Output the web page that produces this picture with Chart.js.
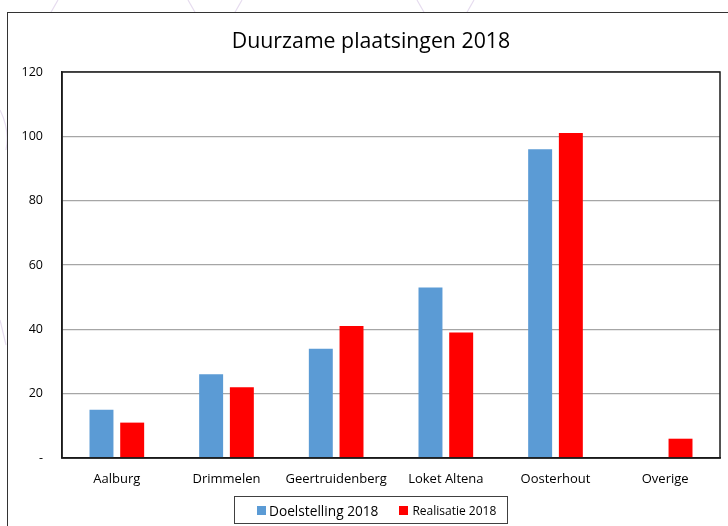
<!DOCTYPE html>
<html>
<head>
<meta charset="utf-8">
<script src="https://cdn.jsdelivr.net/npm/chart.js@4/dist/chart.umd.min.js"></script>
<style>
  html, body { margin: 0; padding: 0; background: #fff; }
  #wrap { position: relative; width: 728px; height: 526px; overflow: hidden; font-family: "Open Sans", sans-serif; }
  #deco { position: absolute; left: 0; top: 0; }
  #frame { position: absolute; left: 7px; top: 12px; width: 740px; height: 540px; border: 1.5px solid #333; background: #fff; box-sizing: border-box; }
  #cv { position: absolute; left: 0; top: 0; }
  #title { position: absolute; left: 0; top: 27px; width: 742px; text-align: center; font-size: 21.3px; line-height: 25px; color: #000; white-space: nowrap; }
  #legend { position: absolute; left: 234px; top: 496px; width: 274px; height: 28px; border: 1px solid #404040; box-sizing: border-box; display: flex; align-items: center; color: #000; }
  .item { display: flex; align-items: center; }
  .sw { width: 9px; height: 9px; display: inline-block; }
</style>
</head>
<body>
<div id="wrap">
  <svg id="deco" width="728" height="526">
    <g stroke="#e6dcef" stroke-width="1.2" fill="none">
      <line x1="50" y1="14" x2="58" y2="0"/>
      <line x1="188" y1="0" x2="196" y2="14"/>
      <line x1="234" y1="14" x2="242" y2="0"/>
      <line x1="417" y1="0" x2="425" y2="14"/>
      <line x1="466" y1="14" x2="474" y2="0"/>
      <path d="M0 110 Q10 130 6 150"/>
      <path d="M0 320 L6 345"/>
    </g>
  </svg>
  <div id="frame"></div>
  <canvas id="cv" width="728" height="526"></canvas>
  <div id="title"></div>
  <div id="legend"></div>
</div>
<script>
const chartTitle = "Duurzame plaatsingen 2018";
const categories = ["Aalburg", "Drimmelen", "Geertruidenberg", "Loket Altena", "Oosterhout", "Overige"];
const doelstelling2018 = [15, 26, 34, 53, 96, null];
const realisatie2018 = [11, 22, 41, 39, 101, 6];
const yTicks = [0, 20, 40, 60, 80, 100, 120];
const seriesNames = ["Doelstelling 2018", "Realisatie 2018"];
const seriesColors = ["#5b9bd5", "#ff0000"];

document.getElementById('title').textContent = chartTitle;

const frameBox = {
  id: 'frameBox',
  afterDraw(chart) {
    const a = chart.chartArea, c = chart.ctx;
    c.save();
    c.strokeStyle = '#1a1a1a';
    c.lineWidth = 1.5;
    c.strokeRect(a.left, a.top, a.right - a.left, a.bottom - a.top);
    c.restore();
  }
};

const chart = new Chart(document.getElementById('cv'), {
  type: 'bar',
  data: {
    labels: categories,
    datasets: [
      { label: seriesNames[0], data: doelstelling2018, backgroundColor: seriesColors[0], barPercentage: 0.78, categoryPercentage: 0.56 },
      { label: seriesNames[1], data: realisatie2018, backgroundColor: seriesColors[1], barPercentage: 0.78, categoryPercentage: 0.56 }
    ]
  },
  options: {
    responsive: false,
    animation: false,
    layout: { padding: { top: 72, right: 8, bottom: 0, left: 0 } },
    plugins: {
      legend: { display: false },
      tooltip: { enabled: false },
      title: { display: false }
    },
    scales: {
      x: {
        grid: { display: false, drawTicks: false },
        border: { display: true, color: '#1a1a1a', width: 1.5 },
        ticks: { color: '#000', font: { family: 'Open Sans', size: 13 }, padding: 13, maxRotation: 0 },
        afterFit(s) { s.height = 68; }
      },
      y: {
        min: 0, max: 120,
        afterBuildTicks(s) { s.ticks = yTicks.map(v => ({ value: v })); },
        grid: { color: '#a6a6a6', lineWidth: 1.3, drawTicks: false },
        border: { display: true, color: '#1a1a1a', width: 1.5 },
        ticks: {
          color: '#000', font: { family: 'Open Sans', size: 12.5 }, padding: 19,
          callback: v => v === 0 ? '-' : String(v)
        },
        afterFit(s) { s.width = 62; }
      }
    }
  },
  plugins: [frameBox]
});

const leg = document.getElementById('legend');
const sizes = [13.7, 12];
const margins = [22, 21];
const gaps = [3, 4];
seriesNames.forEach((n, i) => {
  const it = document.createElement('div');
  it.className = 'item';
  it.style.marginLeft = margins[i] + 'px';
  const sw = document.createElement('span');
  sw.className = 'sw';
  sw.style.background = seriesColors[i];
  sw.style.marginRight = gaps[i] + 'px';
  const tx = document.createElement('span');
  tx.textContent = n;
  tx.style.fontSize = sizes[i] + 'px';
  it.appendChild(sw); it.appendChild(tx);
  leg.appendChild(it);
});
</script>
</body>
</html>
